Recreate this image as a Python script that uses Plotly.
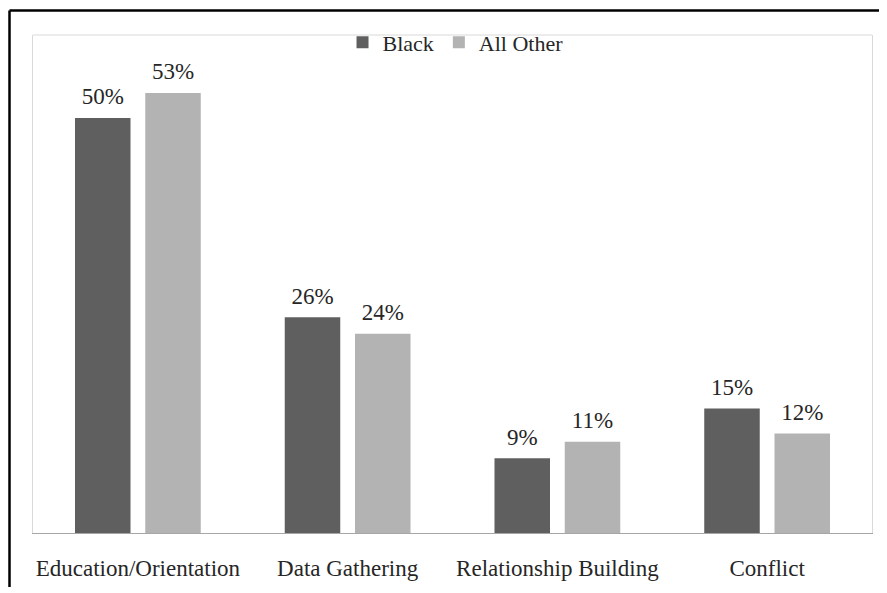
import plotly.graph_objects as go

categories = ["Education/Orientation", "Data Gathering", "Relationship Building", "Conflict"]
black_vals = [50, 26, 9, 15]
other_vals = [53, 24, 11, 12]
series_names = ["Black", "All Other"]

FONT = "Liberation Serif"
TXT = "#262626"
COLORS = ["#5f5f5f", "#b3b3b3"]

fig = go.Figure()
for name, vals, col in zip(series_names, [black_vals, other_vals], COLORS):
    fig.add_trace(go.Bar(
        name=name, x=categories, y=vals, offsetgroup=name,
        marker=dict(color=col, line=dict(width=0)),
    ))
for name, vals in zip(series_names, [black_vals, other_vals]):
    fig.add_trace(go.Scatter(
        x=categories, y=vals, mode="markers+text", offsetgroup=name, showlegend=False,
        marker=dict(size=11, opacity=0),
        text=[f"{v}%" for v in vals], textposition="top center",
        textfont=dict(family=FONT, size=23, color=TXT), cliponaxis=False,
        hoverinfo="skip",
    ))

# page is offset by the 8px body margin
W, H = 879, 585
L, R, T, B = 25, 15, 27, 50
pw, ph = W - L - R, H - T - B
bx, by = 1.5, 2.0  # outer border position in figure px

fig.update_layout(
    width=W, height=H,
    margin=dict(l=L, r=R, t=T, b=B),
    paper_bgcolor="white", plot_bgcolor="white",
    barmode="group", bargap=0.33, bargroupgap=0.21,
    scattermode="group", scattergap=0.33,
    font=dict(family=FONT, size=22, color=TXT),
    showlegend=True,
    legend=dict(orientation="h", x=0.5036, xanchor="center", y=1.027, yanchor="top",
                font=dict(family=FONT, size=22, color=TXT), bgcolor="rgba(0,0,0,0)",
                itemwidth=30, traceorder="normal"),
    xaxis=dict(showline=True, linecolor="#a6a6a6", linewidth=1, showgrid=False,
               ticks="outside", ticklen=14, tickcolor="rgba(0,0,0,0)",
               tickfont=dict(family=FONT, size=23, color=TXT)),
    yaxis=dict(range=[0, 60], showline=True, mirror=True, linecolor="#d9d9d9", linewidth=1,
               showgrid=False, showticklabels=False, ticks="", zeroline=False),
    shapes=[
        dict(type="line", xref="paper", yref="paper", x0=0, x1=1, y0=1, y1=1,
             line=dict(color="#d9d9d9", width=1)),
        dict(type="line", xref="paper", yref="paper",
             x0=(bx - L) / pw, x1=(bx - L) / pw, y0=1 + (T - by) / ph, y1=-(B + 5) / ph,
             line=dict(color="black", width=2.5)),
        dict(type="line", xref="paper", yref="paper",
             x0=(bx - L) / pw, x1=1 + (R + 5) / pw, y0=1 + (T - by) / ph, y1=1 + (T - by) / ph,
             line=dict(color="black", width=2.5)),
    ],
)

fig.write_html("out.html")
